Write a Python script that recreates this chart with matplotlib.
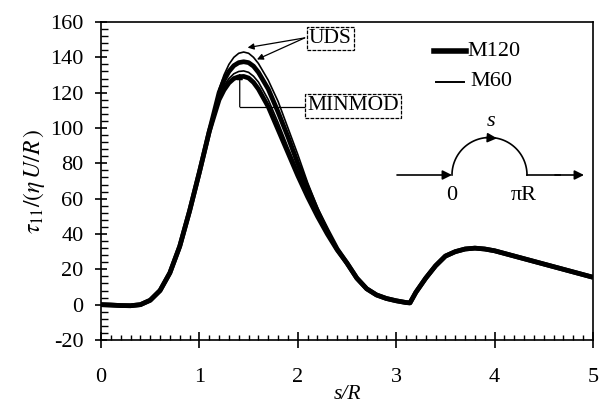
import numpy as np
import matplotlib
matplotlib.use('Agg')
import matplotlib.pyplot as plt
from matplotlib.lines import Line2D
from matplotlib.ticker import MultipleLocator

plt.rcParams['font.family'] = ['Liberation Serif', 'DejaVu Serif']
plt.rcParams['mathtext.fontset'] = 'stix'
plt.rcParams['axes.unicode_minus'] = False

s_R = [0.0, 0.1, 0.2, 0.3, 0.4, 0.5, 0.6, 0.7, 0.8, 0.9, 1.0, 1.1,
       1.2, 1.25, 1.3, 1.35, 1.4, 1.45, 1.5, 1.55, 1.6, 1.7, 1.8, 1.9, 2.0,
       2.1, 2.2, 2.3, 2.4,
       2.5, 2.6, 2.7, 2.8, 2.9, 3.0, 3.1, 3.14, 3.2, 3.3, 3.4, 3.5, 3.6, 3.7,
       3.8, 3.9, 4.0, 4.2, 4.4, 4.6, 4.8, 5.0]

_rise = [0.0, -0.2, -0.5, -0.6, 0.0, 2.5, 8, 18, 33, 53, 75, 98]
_tail = [23.5, 15, 9, 5.5, 3.5, 2.2, 1.2, 1.0, 7, 15, 22, 27.5, 30, 31.5,
         32, 31.5, 30.5, 27.5, 24.5, 21.5, 18.5, 15.5]

# peak region, s/R = 1.2 ... 2.4
uds_m60 = _rise + [122, 130, 136, 140, 142.3, 143, 142.3, 140, 136.5,
                   127, 115, 100, 85, 69, 55, 43, 32] + _tail
uds_m120 = _rise + [120, 127, 132, 135.3, 137, 137.5, 137, 135, 131.5,
                    122, 109, 95, 80, 66, 53, 42, 31.5] + _tail
minmod_m60 = _rise + [118, 124, 128, 130.7, 132, 132.3, 131.5, 129.3, 126,
                      116, 103, 89, 76, 63, 51, 41, 31] + _tail
minmod_m120 = _rise + [116, 121.5, 125.5, 128, 129, 129.2, 128.3, 125.8, 122,
                       112, 99, 86, 73, 61, 50, 40, 31] + _tail

W, H = 604, 407
fig = plt.figure(figsize=(W / 100, H / 100), dpi=100)
ax = fig.add_axes([101 / W, 1 - 340 / H, 492 / W, 318 / H])

thick = 3.4
thin = 1.2
ax.plot(s_R, minmod_m120, color='black', lw=thick, solid_capstyle='butt')
ax.plot(s_R, uds_m120, color='black', lw=thick, solid_capstyle='butt')
ax.plot(s_R, minmod_m60, color='black', lw=thin)
ax.plot(s_R, uds_m60, color='black', lw=thin)

ax.set_xlim(0, 5)
ax.set_ylim(-20, 160)
ax.xaxis.set_major_locator(MultipleLocator(1))
ax.xaxis.set_minor_locator(MultipleLocator(0.1))
ax.yaxis.set_major_locator(MultipleLocator(20))
ax.yaxis.set_minor_locator(MultipleLocator(4))
ax.tick_params(axis='x', which='major', direction='inout', length=11, width=1.2,
               labelsize=16, pad=15)
ax.tick_params(axis='x', which='minor', direction='in', length=3.5, width=1)
ax.tick_params(axis='y', which='major', direction='inout', length=9, width=1.2,
               labelsize=16, pad=8)
ax.tick_params(axis='y', which='minor', direction='in', length=5, width=1)
for sp in ax.spines.values():
    sp.set_linewidth(1.2)

ax.set_xlabel('s/R', fontsize=15.5, style='italic', labelpad=-2)
ax.set_ylabel(r'$\tau_{11}/(\eta\,U/R\,)$', fontsize=17, labelpad=2)

# legend, drawn by hand in figure pixels
fig.add_artist(Line2D([434 / W, 466 / W], [1 - 51 / H] * 2, color='black', lw=4,
                      transform=fig.transFigure))
fig.add_artist(Line2D([436 / W, 464 / W], [1 - 82 / H] * 2, color='black', lw=1.4,
                      transform=fig.transFigure))
fig.text(467 / W, 1 - 51 / H, 'M120', fontsize=16, ha='left', va='center')
fig.text(491 / W, 1 - 82 / H, 'M60', fontsize=16, ha='center', va='center')

# UDS / MINMOD annotations
box = dict(boxstyle='square,pad=0.1', facecolor='white', edgecolor='black', lw=0.9,
           linestyle=(0, (3, 1)))
ax.text(2.33, 150.5, 'UDS', fontsize=15.5, ha='center', va='center', bbox=box)
arr = dict(arrowstyle='-|>', color='black', lw=0.9, mutation_scale=9, shrinkA=0, shrinkB=0)
ax.annotate('', xy=(1.49, 145.5), xytext=(2.07, 151), arrowprops=arr)
ax.annotate('', xy=(1.585, 138.8), xytext=(2.07, 151), arrowprops=arr)

ax.text(2.56, 112.5, 'MINMOD', fontsize=15.5, ha='center', va='center', bbox=box)
ax.plot([1.41, 2.07], [112, 112], color='black', lw=0.9)
ax.annotate('', xy=(1.41, 131), xytext=(1.41, 112), arrowprops=arr)

# inset sketch of the path (pixel units)
ins = fig.add_axes([390 / W, 1 - 205 / H, 210 / W, 95 / H])
ins.set_xlim(390, 600)
ins.set_ylim(205, 110)
ins.set_aspect('equal')
ins.axis('off')
ins.patch.set_alpha(0)
sk = dict(arrowstyle='-|>', color='black', lw=1.2, mutation_scale=14, shrinkA=0, shrinkB=0)
ins.annotate('', xy=(452, 175), xytext=(397, 175), arrowprops=sk)
th = np.linspace(np.pi, 0, 100)
ins.plot(489.5 + 37.5 * np.cos(th), 175 - 37.5 * np.sin(th), color='black', lw=1.2)
ins.annotate('', xy=(497, 138.3), xytext=(486, 137.6), arrowprops=sk)
ins.plot([527, 560], [175, 175], color='black', lw=1.2)
ins.annotate('', xy=(584, 175), xytext=(555, 175), arrowprops=sk)
ins.text(452, 186, '0', fontsize=16, ha='center', va='top')
ins.text(524, 186, 'πR', fontsize=16, ha='center', va='top')
ins.text(491, 131, 's', fontsize=16, style='italic', ha='center', va='bottom')

fig.savefig('out.png', dpi=100)
